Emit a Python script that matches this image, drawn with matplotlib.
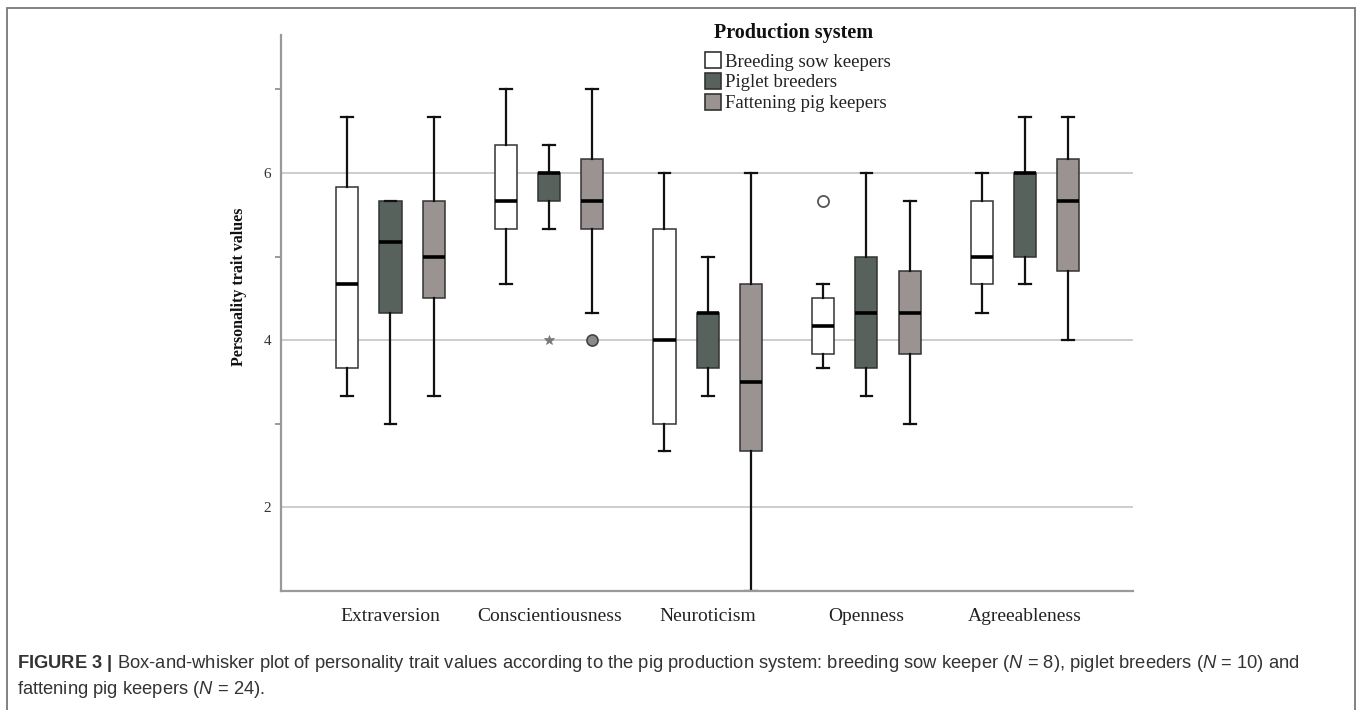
import matplotlib
matplotlib.use("Agg")
import matplotlib.pyplot as plt
from matplotlib.patches import Patch, Rectangle
import numpy as np

plt.rcParams['mathtext.fontset'] = 'custom'
plt.rcParams['mathtext.rm'] = 'Liberation Sans'
plt.rcParams['mathtext.it'] = 'Liberation Sans:italic'
plt.rcParams['mathtext.bf'] = 'Liberation Sans:bold'

# ---------------- data ----------------
categories = ['Extraversion', 'Conscientiousness', 'Neuroticism', 'Openness', 'Agreeableness']
groups = ['Breeding sow keepers', 'Piglet breeders', 'Fattening pig keepers']

breeding_whislo = [3.33, 4.67, 2.67, 3.67, 4.33]
breeding_q1     = [3.67, 5.33, 3.00, 3.83, 4.67]
breeding_med    = [4.67, 5.67, 4.00, 4.17, 5.00]
breeding_q3     = [5.83, 6.33, 5.33, 4.50, 5.67]
breeding_whishi = [6.67, 7.00, 6.00, 4.67, 6.00]
breeding_fliers = [[], [], [], [5.67], []]

piglet_whislo = [3.00, 5.33, 3.33, 3.33, 4.67]
piglet_q1     = [4.33, 5.67, 3.67, 3.67, 5.00]
piglet_med    = [5.17, 6.00, 4.33, 4.33, 6.00]
piglet_q3     = [5.67, 6.00, 4.33, 5.00, 6.00]
piglet_whishi = [5.67, 6.33, 5.00, 6.00, 6.67]
piglet_fliers = [[], [4.00], [], [], []]

fatten_whislo = [3.33, 4.33, 1.00, 3.00, 4.00]
fatten_q1     = [4.50, 5.33, 2.67, 3.83, 4.83]
fatten_med    = [5.00, 5.67, 3.50, 4.33, 5.67]
fatten_q3     = [5.67, 6.17, 4.67, 4.83, 6.17]
fatten_whishi = [6.67, 7.00, 6.00, 5.67, 6.67]
fatten_fliers = [[], [4.00], [], [], []]

yticks_major = [2, 4, 6]
yticks_minor = [3, 5, 7]

# ---------------- styling ----------------
W, H = 1357, 710
fig = plt.figure(figsize=(W / 100, H / 100), dpi=100)
ax = fig.add_axes([281 / W, 1 - 591 / H, (1133 - 281) / W, (591 - 35) / H])

colors = ['#ffffff', '#56625b', '#9b9391']
flierprops_list = [
    dict(marker='o', markerfacecolor='white', markeredgecolor='#555555', markersize=8, markeredgewidth=1.3),
    dict(marker='*', markerfacecolor='#777777', markeredgecolor='#777777', markersize=7, markeredgewidth=0.5),
    dict(marker='o', markerfacecolor='#8a8a8a', markeredgecolor='#444444', markersize=8, markeredgewidth=1.2),
]

data_sets = [
    (breeding_whislo, breeding_q1, breeding_med, breeding_q3, breeding_whishi, breeding_fliers),
    (piglet_whislo, piglet_q1, piglet_med, piglet_q3, piglet_whishi, piglet_fliers),
    (fatten_whislo, fatten_q1, fatten_med, fatten_q3, fatten_whishi, fatten_fliers),
]

offset = 0.273
width = 0.139
base = np.arange(len(categories))

ax.set_axisbelow(True)
ax.yaxis.grid(True, which='major', color='#c9c9c9', linewidth=1.3)

for gi, (wlo, q1, med, q3, whi, fl) in enumerate(data_sets):
    stats = []
    for i in range(len(categories)):
        stats.append(dict(whislo=wlo[i], q1=q1[i], med=med[i], q3=q3[i], whishi=whi[i], fliers=fl[i]))
    pos = base + (gi - 1) * offset
    ax.bxp(stats, positions=pos, widths=width, capwidths=0.075, patch_artist=True,
           manage_ticks=False,
           boxprops=dict(facecolor=colors[gi], edgecolor='#333333', linewidth=1.1),
           whiskerprops=dict(color='#111111', linewidth=1.6),
           capprops=dict(color='#111111', linewidth=1.6),
           medianprops=dict(color='#000000', linewidth=2.6, solid_capstyle='butt'),
           flierprops=flierprops_list[gi])

ax.set_xlim(-0.69, 4.68)
ax.set_ylim(1.0, 7.65)
ax.set_xticks(base)
ax.set_xticklabels(categories, fontfamily='Liberation Serif', fontsize=14, color='#222222')
ax.tick_params(axis='x', length=0, pad=12)
ax.set_yticks(yticks_major)
ax.set_yticks(yticks_minor, minor=True)
ax.set_yticklabels([str(v) for v in yticks_major], fontfamily='Liberation Serif', fontsize=11, color='#333333')
ax.tick_params(axis='y', which='major', length=0, pad=7)
ax.tick_params(axis='y', which='minor', length=4, width=1.2, color='#888888')

for s in ['top', 'right']:
    ax.spines[s].set_visible(False)
ax.spines['left'].set_color('#999999')
ax.spines['left'].set_linewidth(1.6)
ax.spines['bottom'].set_color('#999999')
ax.spines['bottom'].set_linewidth(1.6)

ax.set_ylabel('Personality trait values', fontfamily='Liberation Serif', fontweight='bold',
              fontsize=11.5, color='#111111')
ax.yaxis.set_label_coords(-0.040, 0.547)

# legend
handles = [Patch(facecolor=c, edgecolor='#333333', linewidth=1.2) for c in colors]
leg = fig.legend(handles, groups, loc='upper left', bbox_to_anchor=(705 / W, 1 - 52 / H),
                 frameon=False, borderpad=0, borderaxespad=0,
                 prop=dict(family='Liberation Serif', size=13.5),
                 handlelength=0.85, handleheight=0.95, handletextpad=0.2, labelspacing=0.12)
for t in leg.get_texts():
    t.set_color('#222222')
fig.text(794 / W, 1 - 33 / H, 'Production system', ha='center', va='center',
         fontfamily='Liberation Serif', fontweight='bold', fontsize=14.5, color='#111111')

# outer frame
fig.patches.append(Rectangle((7 / W, -0.05), (1355 - 7) / W, 1 - 8 / H + 0.05,
                             transform=fig.transFigure, fill=False,
                             edgecolor='#777777', linewidth=1.3))

# caption
cap1 = (r"$\mathbf{FIGURE\ 3\ |}$ Box-and-whisker plot of personality trait values according to the pig "
        r"production system: breeding sow keeper ($\mathit{N}$ = 8), piglet breeders ($\mathit{N}$ = 10) and")
cap2 = r"fattening pig keepers ($\mathit{N}$ = 24)."
fig.text(17 / W, 1 - 664 / H, cap1, fontfamily='Liberation Sans', fontsize=13.22, color='#333333', va='center')
fig.text(17 / W, 1 - 690 / H, cap2, fontfamily='Liberation Sans', fontsize=13.22, color='#333333', va='center')

fig.savefig('out.png', dpi=100)
